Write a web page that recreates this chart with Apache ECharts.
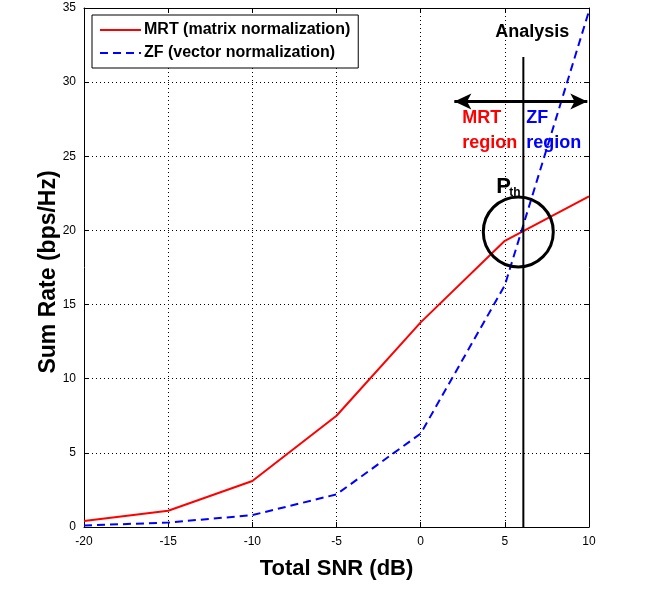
<!DOCTYPE html>
<html><head><meta charset="utf-8">
<script src="https://cdn.jsdelivr.net/npm/echarts@6/dist/echarts.min.js"></script>
<style>html,body{margin:0;padding:0;background:#fff}#c{width:651px;height:602px}</style>
</head><body><div id="c"></div>
<script>
const snr = [-20, -15, -10, -5, 0, 5, 10];
const mrt = [0.4, 1.1, 3.1, 7.5, 13.8, 19.3, 22.3];
const zf  = [0.1, 0.3, 0.8, 2.2, 6.3, 16.3, 34.8];
const xTicks = [-20, -15, -10, -5, 0, 5, 10];
const yTicks = [0, 5, 10, 15, 20, 25, 30, 35];
const thresholdX = 6.1;
const thresholdTop = 31.7;
const arrowY = 28.7;
const arrowFrom = 2.0;
const arrowTo = 9.9;
const circleCenter = [5.8, 19.9];

const chart = echarts.init(document.getElementById('c'));
const font = '"Liberation Sans", Arial, sans-serif';
const axLine = {show: true, onZero: false, lineStyle: {color: '#000', width: 1}};
const axTick = {show: true, inside: true, length: 5, lineStyle: {color: '#000'}};
chart.setOption({
  animation: false,
  grid: {left: 84, right: 62, top: 8, bottom: 75},
  legend: {
    orient: 'vertical', left: 92, top: 15,
    borderColor: '#000', borderWidth: 1, backgroundColor: '#fff',
    padding: [7, 8, 7, 7], itemGap: 7, itemWidth: 41, itemHeight: 16,
    itemStyle: {opacity: 0},
    textStyle: {fontFamily: font, fontSize: 16, fontWeight: 'bold', color: '#000', padding: [0,0,0,-2]},
    data: ['MRT (matrix normalization)', 'ZF (vector normalization)']
  },
  xAxis: [
    {type: 'value', min: -20, max: 10, interval: 5,
      name: 'Total SNR (dB)', nameLocation: 'middle', nameGap: 31,
      nameTextStyle: {fontFamily: font, fontSize: 22, fontWeight: 'bold', color: '#000'},
      axisLabel: {fontFamily: font, fontSize: 12, color: '#000', margin: 9},
      axisLine: axLine, axisTick: axTick,
      splitLine: {show: true, lineStyle: {color: '#000', type: [1, 3], width: 1}}},
    {type: 'value', position: 'top', min: -20, max: 10, interval: 5,
      axisLabel: {show: false}, axisLine: axLine, axisTick: axTick, splitLine: {show: false}}
  ],
  yAxis: [
    {type: 'value', min: 0, max: 35, interval: 5,
      axisLabel: {fontFamily: font, fontSize: 12, color: '#000', margin: 8},
      axisLine: axLine, axisTick: axTick,
      splitLine: {show: true, lineStyle: {color: '#000', type: [1, 3], width: 1}}},
    {type: 'value', position: 'right', min: 0, max: 35, interval: 5,
      axisLabel: {show: false}, axisLine: axLine, axisTick: axTick, splitLine: {show: false}}
  ],
  series: [
    {name: 'MRT (matrix normalization)', type: 'line', symbol: 'none',
     data: snr.map((x, i) => [x, mrt[i]]),
     lineStyle: {color: '#ff0000', width: 2}, itemStyle: {color: '#ff0000'}},
    {name: 'ZF (vector normalization)', type: 'line', symbol: 'none',
     data: snr.map((x, i) => [x, zf[i]]),
     lineStyle: {color: '#0000ff', width: 2, type: [8, 5]}, itemStyle: {color: '#0000ff'}},
    {name: 'threshold', type: 'line', symbol: 'none', silent: true,
     data: [[thresholdX, 0], [thresholdX, thresholdTop]],
     lineStyle: {color: '#000', width: 2}, z: 3},
    {name: 'arrow', type: 'line', symbol: 'none', silent: true, data: [],
     markLine: {silent: true, symbol: ['arrow', 'arrow'], symbolSize: [12, 17],
       label: {show: false},
       lineStyle: {color: '#000', width: 3, type: 'solid'},
       data: [[{coord: [arrowFrom, arrowY]}, {coord: [arrowTo, arrowY]}]]}},
    {name: 'circle', type: 'scatter', silent: true, data: [circleCenter],
     symbolSize: 70, itemStyle: {color: 'rgba(0,0,0,0)', borderColor: '#000', borderWidth: 3, opacity: 1}, z: 4}
  ]
});

function place() {
  const p = (x, y) => chart.convertToPixel({xAxisIndex: 0, yAxisIndex: 0}, [x, y]);
  const a = p(thresholdX, 33.6);
  const m1 = p(thresholdX, 27.6);
  const m2 = p(thresholdX, 25.9);
  const c = p(circleCenter[0], circleCenter[1]);
  const yl = p(-20, 17.2);
  const bold = 'bold 18px "Liberation Sans", Arial, sans-serif';
  chart.setOption({graphic: [
    {type: 'text', x: yl[0] - 35, y: yl[1], rotation: Math.PI / 2,
     style: {text: 'Sum Rate (bps/Hz)', font: 'bold 23px "Liberation Sans", Arial, sans-serif', fill: '#000', align: 'center', verticalAlign: 'middle'}},
    {type: 'text', x: a[0] + 9, y: a[1] + 3, style: {text: 'Analysis', font: bold, fill: '#000', align: 'center', verticalAlign: 'middle'}},
    {type: 'text', x: m1[0] - 61, y: m1[1], style: {text: 'MRT', font: bold, fill: '#ff0000', align: 'left', verticalAlign: 'middle'}},
    {type: 'text', x: m2[0] - 61, y: m2[1], style: {text: 'region', font: bold, fill: '#ff0000', align: 'left', verticalAlign: 'middle'}},
    {type: 'text', x: m1[0] + 3, y: m1[1], style: {text: 'ZF', font: bold, fill: '#0000ff', align: 'left', verticalAlign: 'middle'}},
    {type: 'text', x: m2[0] + 3, y: m2[1], style: {text: 'region', font: bold, fill: '#0000ff', align: 'left', verticalAlign: 'middle'}},
    {type: 'text', x: c[0] - 22, y: c[1] - 45, style: {text: 'P', font: 'bold 22px "Liberation Sans", Arial, sans-serif', fill: '#000', align: 'left', verticalAlign: 'middle'}},
    {type: 'text', x: c[0] - 9, y: c[1] - 39, style: {text: 'th', font: 'bold 12px "Liberation Sans", Arial, sans-serif', fill: '#000', align: 'left', verticalAlign: 'middle'}}
  ]});
}
place();
</script></body></html>
